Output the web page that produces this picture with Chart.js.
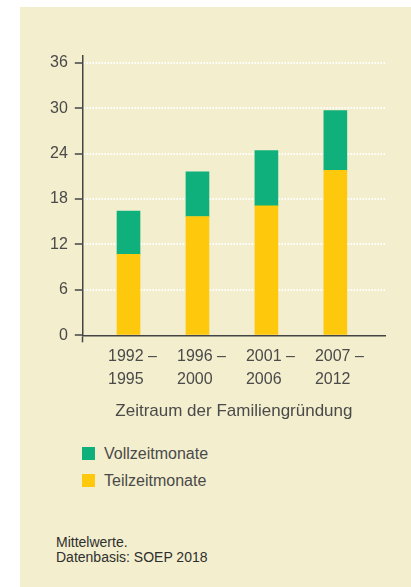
<!DOCTYPE html>
<html>
<head>
<meta charset="utf-8">
<script src="https://cdn.jsdelivr.net/npm/chart.js@4/dist/chart.umd.min.js"></script>
<style>
  html, body { margin: 0; padding: 0; background: #fff; }
  body { width: 411px; height: 587px; position: relative; overflow: hidden;
    font-family: "Liberation Sans", Arial, sans-serif; }
  #panel { position: absolute; left: 20px; top: 7px; width: 391px; height: 580px; background: #f3eecd; }
  #chart { position: absolute; left: 0; top: 0; }
  #legend { position: absolute; left: 82px; top: 440px; font-size: 16px; color: #4a4a4a; }
  #legend div { height: 27px; display: flex; align-items: center; }
  #legend span.box { width: 13px; height: 13px; margin-right: 9px; display: inline-block; }
  #notes { position: absolute; left: 56px; top: 535px; font-size: 14px; line-height: 15px; color: #2e2e2e; }
</style>
</head>
<body>
<div id="panel"></div>
<canvas id="chart" width="411" height="430"></canvas>
<div id="legend"></div>
<div id="notes">Mittelwerte.<br>Datenbasis: SOEP 2018</div>
<script>
const Chart = window.Chart

// --- data ---
const periodStart = ["1992", "1996", "2001", "2007"]
const periodEnd = ["1995", "2000", "2006", "2012"]
const teilzeit = [10.7, 15.7, 17.1, 21.8]
const vollzeit = [5.7, 5.9, 7.3, 7.9]
const yTicks = [0, 6, 12, 18, 24, 30, 36]
const xTitle = "Zeitraum der Familiengründung"

const series = [
  { label: "Teilzeitmonate", data: teilzeit, color: "#fec90c" },
  { label: "Vollzeitmonate", data: vollzeit, color: "#0fb07b" },
]

const ink = "#4a4a4a"
const axisColor = "#454545"
Chart.defaults.font.family = '"Liberation Sans", Arial, sans-serif'
Chart.defaults.font.size = 16
Chart.defaults.color = ink

new Chart(document.getElementById("chart"), {
  type: "bar",
  data: {
    datasets: series.map((s) => ({
      label: s.label,
      data: s.data.map((v, i) => ({ x: i, y: v })),
      backgroundColor: s.color,
      borderWidth: 0,
      barThickness: 23,
    })),
  },
  options: {
    responsive: false,
    animation: false,
    layout: { padding: { left: 43, right: 26, top: 56, bottom: 8 } },
    scales: {
      x: {
        type: "linear",
        stacked: true,
        offset: false,
        min: -0.663,
        max: 3.72,
        afterBuildTicks: (axis) => {
          axis.ticks = [{ value: axis.min }].concat(periodStart.map((p, i) => ({ value: i })))
        },
        grid: {
          offset: false,
          drawOnChartArea: false,
          tickLength: 7,
          tickWidth: 1.5,
          tickColor: (ctx) => (ctx.tick && ctx.tick.value === ctx.scale.min ? axisColor : "rgba(0,0,0,0)"),
        },
        border: { color: axisColor, width: 1.5 },
        ticks: {
          autoSkip: false,
          maxRotation: 0,
          minRotation: 0,
          padding: 3.5,
          labelOffset: 4,
          color: ink,
          font: { size: 16, lineHeight: 1.4 },
          callback: (value) => {
            const i = periodStart.findIndex((p, k) => k === value)
            if (i < 0) return ""
            return [periodStart[i] + " \u2013", periodEnd[i] + "   "]
          },
        },
        title: {
          display: true,
          text: xTitle,
          color: ink,
          font: { size: 17 },
          padding: { top: 7.5, bottom: 0 },
        },
      },
      y: {
        stacked: true,
        min: 0,
        max: 36.9,
        afterBuildTicks: (axis) => {
          axis.ticks = yTicks.map((v) => ({ value: v }))
        },
        grid: {
          color: (ctx) => (ctx.tick && ctx.tick.value === 0 ? "rgba(0,0,0,0)" : "#ffffff"),
          lineWidth: 2,
          tickLength: 8,
          tickWidth: 1.5,
          tickColor: axisColor,
        },
        border: { color: axisColor, width: 1.5, dash: [1.5, 1.5] },
        ticks: { padding: 7, color: ink, font: { size: 16 } },
      },
    },
    plugins: {
      legend: { display: false },
      tooltip: { enabled: false },
    },
  },
})

// --- legend (Vollzeit on top) ---
const legend = document.getElementById("legend")
series.slice().reverse().forEach((s) => {
  const row = document.createElement("div")
  row.innerHTML = '<span class="box" style="background:' + s.color + '"></span>' + s.label
  legend.appendChild(row)
})
</script>
</body>
</html>
